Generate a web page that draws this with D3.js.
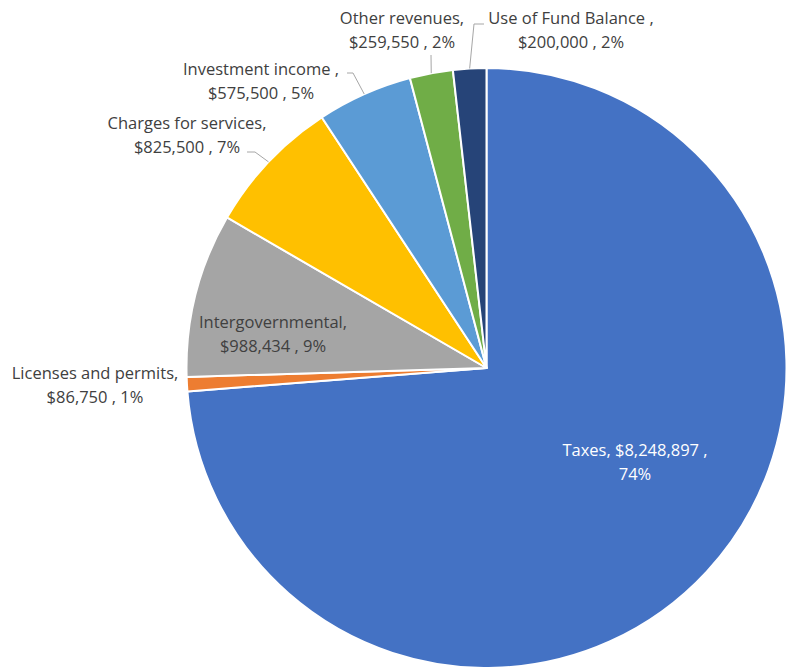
<!DOCTYPE html>
<html>
<head>
<meta charset="utf-8">
<script src="https://cdn.jsdelivr.net/npm/d3@7"></script>
<style>
  body { margin: 0; background: #fff; }
  svg { display: block; }
</style>
</head>
<body>
<div id="chart"></div>
<script>
// data
const categories = ["Taxes", "Licenses and permits", "Intergovernmental", "Charges for services",
    "Investment income", "Other revenues", "Use of Fund Balance"];
const amounts = [8248897, 86750, 988434, 825500, 575500, 259550, 200000];
const percentLabels = ["74%", "1%", "9%", "7%", "5%", "2%", "2%"];
const colors = ["#4472C4", "#ED7D31", "#A5A5A5", "#FFC000", "#5B9BD5", "#70AD47", "#264478"];

// label text lines (Excel puts the separators in odd places)
const labelLines = [
    ["Taxes, $8,248,897 ,", "74%"],
    ["Licenses and permits,", "$86,750 , 1%"],
    ["Intergovernmental,", "$988,434 , 9%"],
    ["Charges for services,", "$825,500 , 7%"],
    ["Investment income ,", "$575,500 , 5%"],
    ["Other revenues,", "$259,550 , 2%"],
    ["Use of Fund Balance ,", "$200,000 , 2%"]
];

// label layout: centre x, centre y of first line, leader elbow/end (null = no leader)
const labelLayout = [
    { x: 635, y: 450, color: "#fff" },
    { x: 95, y: 373 },
    { x: 273, y: 322 },
    { x: 187, y: 123, elbow: [255, 152], end: [247, 152] },
    { x: 261, y: 69, elbow: [353, 73], end: [347, 73] },
    { x: 402, y: 18, elbow: null, end: [431, 55] },
    { x: 571, y: 18, elbow: [474, 24], end: [484, 24] }
];

const width = 794, height = 667;
const cx = 486.5, cy = 368, radius = 300;

const svg = d3.select("#chart")
    .append("svg")
    .attr("width", width)
    .attr("height", height);

const data = categories.map((c, i) => ({ name: c, value: amounts[i], i }));

// Excel draws clockwise from 12 o'clock
const pie = d3.pie()
    .value(d => d.value)
    .sort(null);

const arcs = pie(data);

const arc = d3.arc()
    .innerRadius(0)
    .outerRadius(radius);

const g = svg.append("g")
    .attr("transform", `translate(${cx},${cy})`);

g.selectAll(".slice")
    .data(arcs)
    .enter()
    .append("path")
    .attr("class", "slice")
    .attr("d", arc)
    .attr("fill", d => colors[d.data.i])
    .attr("stroke", "#fff")
    .attr("stroke-width", 2)
    .attr("stroke-linejoin", "round");

// leader lines from slice edge at mid angle
const leaders = svg.append("g").attr("class", "leaders");
arcs.forEach(d => {
    const lay = labelLayout[d.data.i];
    if (!lay.end) return;
    const mid = (d.startAngle + d.endAngle) / 2;
    const start = [cx + radius * Math.sin(mid), cy - radius * Math.cos(mid)];
    const pts = [start];
    if (lay.elbow) pts.push(lay.elbow);
    pts.push(lay.end);
    leaders.append("path")
        .attr("d", d3.line()(pts))
        .attr("fill", "none")
        .attr("stroke", "#A6A6A6")
        .attr("stroke-width", 1);
});

// data labels
const labels = svg.append("g").attr("class", "labels");
arcs.forEach(d => {
    const lay = labelLayout[d.data.i];
    const t = labels.append("text")
        .attr("text-anchor", "middle")
        .attr("font-family", "'Open Sans', 'Noto Sans', sans-serif")
        .attr("font-size", "16.5px")
        .attr("fill", lay.color || "#404040");
    labelLines[d.data.i].forEach((line, k) => {
        t.append("tspan")
            .attr("x", lay.x)
            .attr("y", lay.y + k * 24.5)
            .attr("dy", "0.35em")
            .text(line);
    });
});
</script>
</body>
</html>
